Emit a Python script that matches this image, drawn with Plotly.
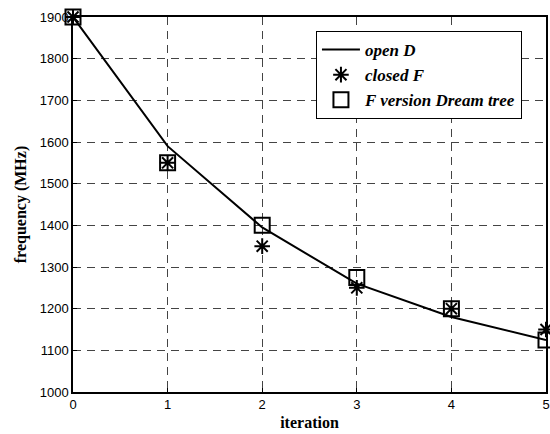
import plotly.graph_objects as go

iterations = [0, 1, 2, 3, 4, 5]
open_d = [1900, 1590, 1395, 1260, 1180, 1125]
closed_f = [1900, 1550, 1350, 1250, 1200, 1150]
dream_tree = [1900, 1550, 1400, 1275, 1200, 1125]

x_ticks = [0, 1, 2, 3, 4, 5]
y_ticks = [1000, 1100, 1200, 1300, 1400, 1500, 1600, 1700, 1800, 1900]

fig = go.Figure()
fig.add_trace(go.Scatter(x=iterations, y=open_d, mode="lines", name="open D",
                         line=dict(color="black", width=2), cliponaxis=False))
fig.add_trace(go.Scatter(x=iterations, y=closed_f, mode="markers", name="closed F",
                         marker=dict(symbol="asterisk-open", size=13, color="black",
                                     line=dict(color="black", width=2)), cliponaxis=False))
fig.add_trace(go.Scatter(x=iterations, y=dream_tree, mode="markers", name="F version Dream tree",
                         marker=dict(symbol="square-open", size=15, color="black",
                                     line=dict(color="black", width=2)), cliponaxis=False))

tick_font = dict(family="Liberation Sans, Arial", size=13, color="black")
title_font = dict(family="Liberation Serif, Times New Roman", size=16, color="black", weight="bold")

fig.update_layout(
    width=550, height=434,
    margin=dict(l=73, r=0, t=17, b=42),
    paper_bgcolor="white", plot_bgcolor="white",
    showlegend=True,
    legend=dict(
        x=(318 - 73) / 477, y=(392 - 31) / 375, xanchor="left", yanchor="top",
        bgcolor="white", bordercolor="black", borderwidth=1,
        font=dict(family="Liberation Serif, Times New Roman", size=17, color="black",
                  weight="bold", style="italic"),
        tracegroupgap=0, itemwidth=38,
    ),
    xaxis=dict(
        range=[0, 5], tickvals=x_ticks, ticktext=[str(v) for v in x_ticks],
        showgrid=True, gridcolor="#444444", griddash="8px,6px", gridwidth=1,
        showline=True, linecolor="black", linewidth=1.5, mirror=True,
        ticks="inside", ticklen=4, tickcolor="black",
        tickfont=tick_font, zeroline=False, ticklabeloverflow="allow",
        title=dict(text="iteration", font=title_font, standoff=5),
    ),
    yaxis=dict(
        range=[1000, 1900], tickvals=y_ticks, ticktext=[str(v) for v in y_ticks],
        showgrid=True, gridcolor="#444444", griddash="8px,6px", gridwidth=1,
        showline=True, linecolor="black", linewidth=1.5, mirror=True,
        ticks="inside", ticklen=4, tickcolor="black",
        tickfont=tick_font, zeroline=False,
        title=dict(text="frequency (MHz)", font=title_font, standoff=9),
    ),
)

fig.write_html("out.html")
